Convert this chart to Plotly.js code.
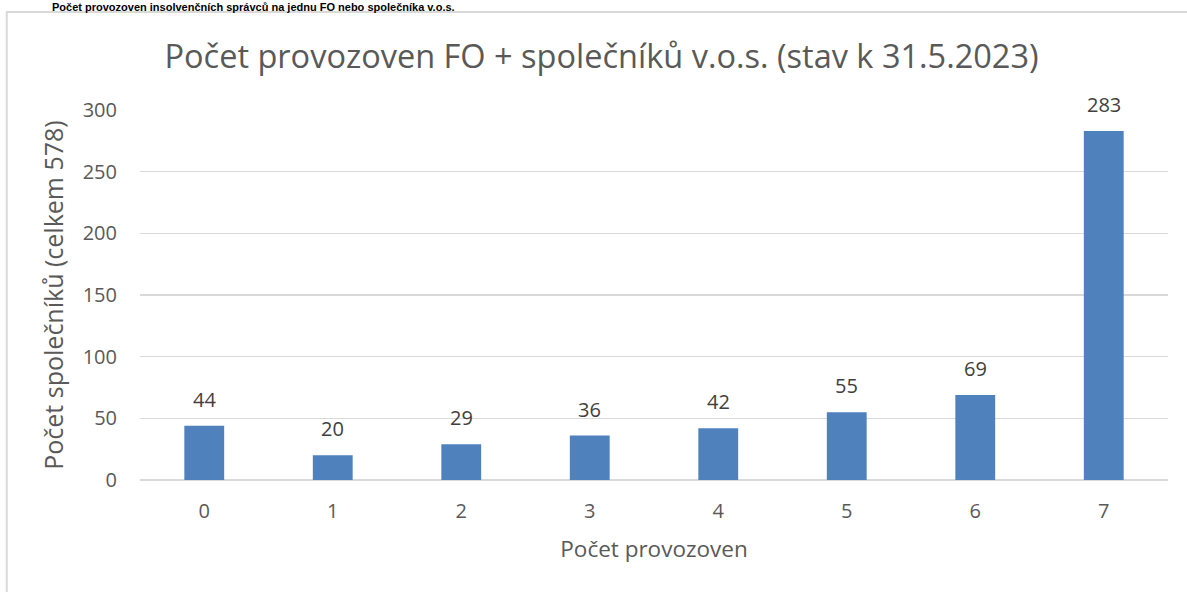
<!DOCTYPE html>
<html><head><meta charset="utf-8">
<script src="https://cdn.plot.ly/plotly-3.0.1.min.js"></script>
<style>html,body{margin:0;padding:0;background:#fff;overflow:hidden}#chart{width:1187px;height:592px}</style>
</head><body><div id="chart"></div>
<script>
const categories = ["0","1","2","3","4","5","6","7"];
const values = [44, 20, 29, 36, 42, 55, 69, 283];
const chartTitle = "Počet provozoven FO + společníků v.o.s. (stav k 31.5.2023)";
const xTitle = "Počet provozoven";
const yTitle = "Počet společníků (celkem 578)";
const pageHeading = "Počet provozoven insolvenčních správců na jednu FO nebo společníka v.o.s.";
const yTicks = [0, 50, 100, 150, 200, 250, 300];

const font = "Open Sans, Lato, sans-serif";
const trace = {
  type: "bar", x: categories, y: values,
  marker: {color: "#4f81bd"},
  width: 0.31, hoverinfo: "skip"
};
const labelAnnotations = categories.map((c, i) => ({
  x: c, y: values[i], xref: "x", yref: "y", text: String(values[i]),
  showarrow: false, xanchor: "center", yanchor: "bottom", yshift: 11,
  font: {family: font, size: 20, color: "#404040"}
}));
const layout = {
  width: 1187, height: 592,
  margin: {l: 140, r: 19, t: 110, b: 112},
  paper_bgcolor: "#fff", plot_bgcolor: "#fff",
  showlegend: false,
  title: {text: chartTitle, font: {family: font, size: 32.5, color: "#595959"},
          x: 0.449, xanchor: "center", xref: "paper", y: 0.905, yanchor: "middle", yref: "container"},
  xaxis: {type: "category", range: [-0.5, 7.5], showgrid: false, zeroline: false,
          showline: false, ticks: "", tickfont: {family: font, size: 20, color: "#595959"},
          ticklabelstandoff: 17,
          title: {text: xTitle, font: {family: font, size: 22.5, color: "#595959"}, standoff: 18}},
  yaxis: {range: [0, 300], tickvals: yTicks, showgrid: true, gridcolor: "#d9d9d9", gridwidth: 1.3,
          zeroline: true, zerolinecolor: "#d9d9d9", zerolinewidth: 1.3,
          ticks: "", tickfont: {family: font, size: 20, color: "#595959"}, ticklabelstandoff: 22,
          title: {text: yTitle, font: {family: font, size: 25, color: "#595959"}, standoff: 11}},
  shapes: [
    {type: "rect", xref: "paper", yref: "paper", x0: -0.1296, x1: 1.2, y0: -0.5, y1: 1.2649,
     line: {color: "#d9d9d9", width: 2}, fillcolor: "rgba(0,0,0,0)", layer: "below"}
  ],
  annotations: labelAnnotations.concat([
    {text: "<b>" + pageHeading + "</b>", xref: "paper", yref: "paper", x: -0.088, y: 1.2649,
     xanchor: "left", yanchor: "bottom", showarrow: false, yshift: -3,
     font: {family: "Liberation Sans, Arial, sans-serif", size: 11, color: "#000"}}
  ])
};
Plotly.newPlot("chart", [trace], layout, {displayModeBar: false, staticPlot: true});
</script></body></html>
